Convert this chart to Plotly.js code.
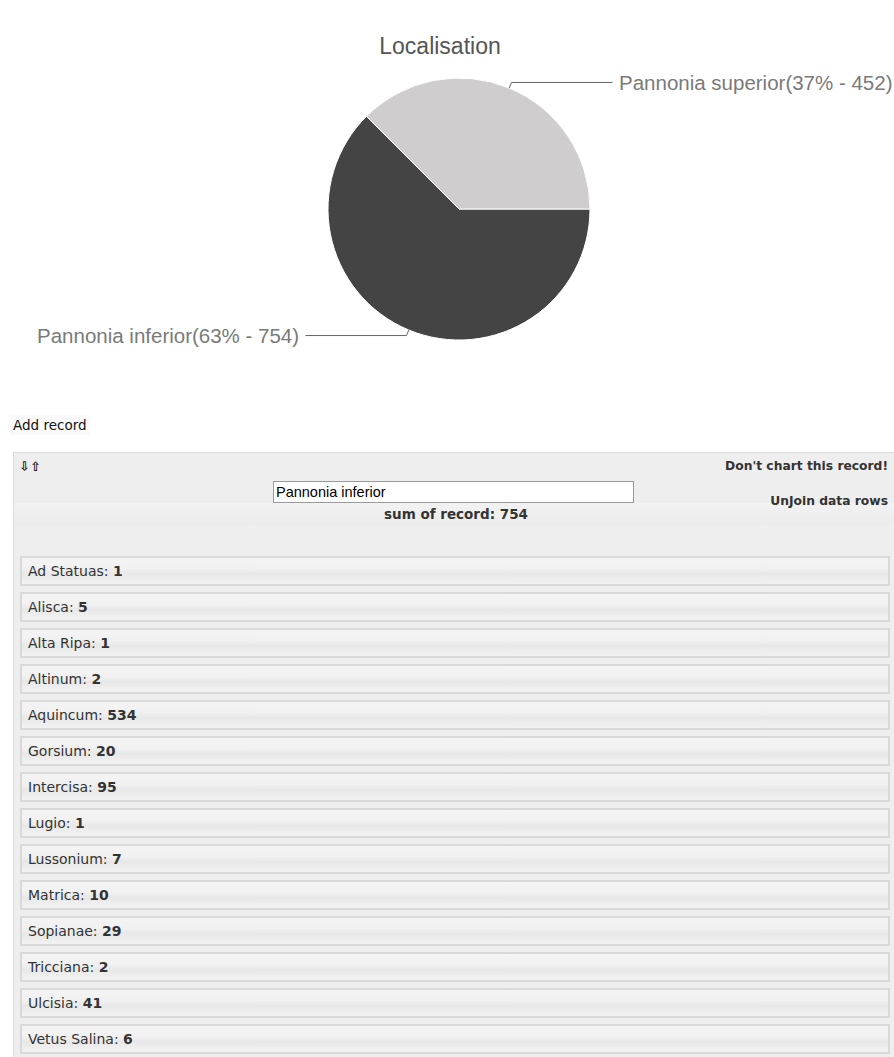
<!DOCTYPE html>
<html>
<head>
<meta charset="utf-8">
<script src="https://cdn.plot.ly/plotly-3.0.1.min.js"></script>
<style>
  html, body { margin: 0; padding: 0; background: #fff; width: 894px; height: 1057px; overflow: hidden; }
  #chart { position: absolute; left: 0; top: 0; width: 894px; height: 400px; }
  .ui { font-family: "DejaVu Sans", Verdana, sans-serif; font-size: 12px; color: #333; }
  #add { position: absolute; left: 10px; top: 415px; padding: 2px 3px; background: #fafafa; font-size: 13.5px; color: #111; }
  #panel { position: absolute; left: 13px; top: 452px; width: 890px; height: 620px; background: #eeeeee; border: 1px solid #dcdcdc; }
  .bold { font-weight: bold; }
  #arrows { position: absolute; left: 5px; top: 6px; font-size: 13px; color: #222; font-weight: bold; }
  #nochart { position: absolute; right: 16px; top: 6px; font-size: 12.3px; }
  #unjoin { position: absolute; right: 16px; top: 41px; font-size: 12.3px; }
  #name { position: absolute; left: 259px; top: 28px; width: 357px; height: 20px; background: #fff; border: 1px solid #9a9a9a; font-family: "Liberation Sans", Arial, sans-serif; font-size: 14.5px; line-height: 20px; padding-left: 2px; color: #000; }
  #sum { position: absolute; left: 0; width: 884px; top: 53px; text-align: center; font-size: 13.5px; }
  #band { position: absolute; left: 0; top: 50px; width: 890px; height: 22px; background: linear-gradient(#f2f2f2, #ececec); }
  .row { position: absolute; left: 6px; width: 860px; height: 26px; border: 2px solid #d9d9d9;
         background: linear-gradient(#f4f4f4 0%, #f1f1f1 40%, #e8e8e8 60%, #f2f2f2 100%);
         line-height: 26px; padding-left: 6px; color: #333; font-size: 14px; }
</style>
</head>
<body>
<div id="chart"></div>
<div id="add" class="ui">Add record</div>
<div id="panel" class="ui">
  <div id="band"></div>
  <div id="arrows">&#8681;&#8679;</div>
  <div id="nochart" class="bold">Don't chart this record!</div>
  <div id="unjoin" class="bold">UnJoin data rows</div>
  <div id="name"></div>
  <div id="sum"></div>
  <div id="rows"></div>
</div>
<script>
// ---- data ----
var pieLabels = ["Pannonia inferior", "Pannonia superior"];
var pieValues = [754, 452];
var pieColors = ["#444444", "#cfcdce"];

var recordName = "Pannonia inferior";
var places = ["Ad Statuas", "Alisca", "Alta Ripa", "Altinum", "Aquincum", "Gorsium", "Intercisa",
              "Lugio", "Lussonium", "Matrica", "Sopianae", "Tricciana", "Ulcisia", "Vetus Salina"];
var counts = [1, 5, 1, 2, 534, 20, 95, 1, 7, 10, 29, 2, 41, 6];

// ---- pie ----
var W = 894, H = 400;
var cx = 459, cy = 209, r = 131;
var rotation = 90; // degrees clockwise from 12 o'clock (Plotly convention)
var domX = [(cx - r) / W, (cx + r) / W];
var domY = [1 - (cy + r) / H, 1 - (cy - r) / H];

var total = pieValues.reduce(function (a, b) { return a + b; }, 0);

var shapes = [], annotations = [];
var cur = rotation;
function px(x) { return x / W; }
function py(y) { return 1 - y / H; }
pieValues.forEach(function (v, i) {
  var span = v / total * 360;
  var mid = (cur + span / 2) * Math.PI / 180; // clockwise from north
  cur += span;
  var sx = Math.sin(mid), sy = -Math.cos(mid);
  var p0 = [cx + r * sx, cy + r * sy];
  var p1 = [cx + (r + 6) * sx, cy + (r + 6) * sy];
  var dir = sx >= 0 ? 1 : -1;
  var p2 = [p1[0] + dir * 101, p1[1]];
  shapes.push({
    type: "path", xref: "paper", yref: "paper",
    path: "M" + px(p0[0]) + "," + py(p0[1]) + " L" + px(p1[0]) + "," + py(p1[1]) + " L" + px(p2[0]) + "," + py(p2[1]),
    line: { color: "#666666", width: 1 }
  });
  var pct = Math.round(v / total * 100);
  annotations.push({
    xref: "paper", yref: "paper",
    x: px(p2[0] + dir * 4), y: py(p2[1]),
    xanchor: dir > 0 ? "left" : "right", yanchor: "middle",
    text: pieLabels[i] + "(" + pct + "% - " + v + ")",
    showarrow: false,
    font: { family: "Liberation Sans, Arial, sans-serif", size: 20.5, color: "#7a7a7a" }
  });
});

Plotly.newPlot("chart", [{
  type: "pie",
  labels: pieLabels,
  values: pieValues,
  sort: false,
  direction: "clockwise",
  rotation: rotation,
  marker: { colors: pieColors, line: { color: "#ffffff", width: 1 } },
  textinfo: "none",
  hoverinfo: "none",
  domain: { x: domX, y: domY }
}], {
  width: W, height: H,
  margin: { l: 0, r: 0, t: 0, b: 0 },
  showlegend: false,
  paper_bgcolor: "#ffffff",
  title: {
    text: "Localisation",
    x: 440 / W, xanchor: "center",
    y: 1 - 46 / H, yanchor: "middle",
    font: { family: "Liberation Sans, Arial, sans-serif", size: 23, color: "#555555" }
  },
  shapes: shapes,
  annotations: annotations
}, { displayModeBar: false, staticPlot: true });

// ---- record panel ----
document.getElementById("name").textContent = recordName;
var sum = counts.reduce(function (a, b) { return a + b; }, 0);
document.getElementById("sum").innerHTML = '<span class="bold">sum of record: ' + sum + '</span>';
var rowsDiv = document.getElementById("rows");
places.forEach(function (p, i) {
  var d = document.createElement("div");
  d.className = "row";
  d.style.top = (103 + i * 36) + "px";
  d.innerHTML = p + ': <span class="bold">' + counts[i] + '</span>';
  rowsDiv.appendChild(d);
});
</script>
</body>
</html>
